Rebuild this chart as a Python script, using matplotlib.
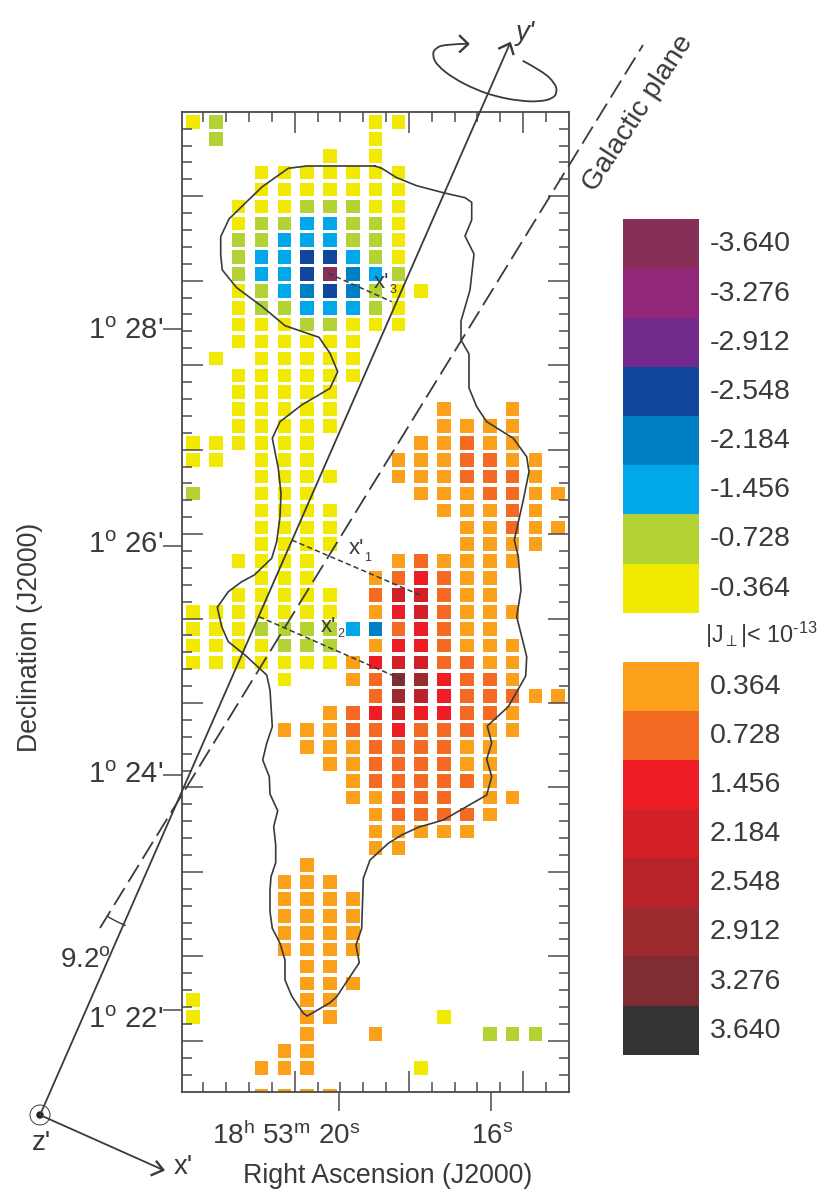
import numpy as np
import matplotlib

matplotlib.use("Agg")
import matplotlib.pyplot as plt  # noqa: E402
from matplotlib.patches import Circle, PathPatch, Rectangle  # noqa: E402
from matplotlib.path import Path  # noqa: E402

plt.rcParams["font.family"] = ["Liberation Sans", "DejaVu Sans"]
plt.rcParams["mathtext.fontset"] = "custom"
plt.rcParams["mathtext.rm"] = "Liberation Sans"
plt.rcParams["mathtext.it"] = "Liberation Sans:italic"
plt.rcParams["axes.unicode_minus"] = False

INK = "#3a3a3a"
FRAME = "#4a4a4a"

# current density levels, key letter/digit -> value
neg_levels = [-3.640, -3.276, -2.912, -2.548, -2.184, -1.456, -0.728, -0.364]
neg_colors = ["#862f57", "#93277a", "#722a8c", "#10479c", "#0080c4", "#00a8ea", "#b3d335", "#f2e900"]
neg_keys = "hgfedcba"
pos_levels = [0.364, 0.728, 1.456, 2.184, 2.548, 2.912, 3.276, 3.640]
pos_colors = ["#fba01b", "#f46a22", "#ee1c25", "#d32027", "#b9242a", "#9d2a2f", "#7f2d32", "#333333"]
pos_keys = "12345678"

# one string per declination row, one char per right ascension column
grid_rows = [
    "ab......aa.......",
    ".b......a........",
    "......a.a........",
    "...aaaaaaa.......",
    "...aaaaaaa.......",
    "..aaabbbaa.......",
    "..abbccbba.......",
    "..bbcccbba.......",
    "..bcceecba.......",
    "..bccehdcb.......",
    "..abcdedbaa......",
    "..abbcccba.......",
    "..aaabbaaa.......",
    "..aaaaaa.........",
    ".a.aaaaa.........",
    "..aaaaaa.........",
    "..aaaaa..........",
    "..aaaaa....1..1..",
    "..aaaaa....1111..",
    "aaaaaa....11211..",
    "aa.aaa...1112211.",
    "...aaaa..1112221.",
    "b..aaa....1112211",
    "...aaaa....11121.",
    "...aaaa.....11211",
    "...aaaa.....1111.",
    "..aaaa...121111..",
    "...aaa..123211...",
    "..aaaaa.244211...",
    "aaaaaaa.1342111..",
    "aaabbbbcd23211...",
    "aaaabbb.1332111..",
    "aaaaaaa13442211..",
    "....a..12763221..",
    "........265322211",
    "......123433221..",
    "....11122322211..",
    ".....111222211...",
    "......11222211...",
    ".......1222221...",
    ".......11222.11..",
    "........122221...",
    "........11111....",
    "........11.......",
    ".....1...........",
    "....111..........",
    "....1111.........",
    "....1111.........",
    "....1111.........",
    "....1111.........",
    ".....11..........",
    ".....111.........",
    "a....11..........",
    "a....11....a.....",
    ".....1..1....bbb.",
    "....11...........",
    "...111....a......",
    "...1111..........",
]

# cloud outline, in picture pixels
outline_x = [375, 381.7, 396.7, 416.7, 443.3, 465, 471.7, 471.7, 465, 474, 470, 461, 461, 469, 469, 476.7, 486.7,
             513.3, 526.7, 529, 523.3, 514.3, 518.3, 521, 516.7, 526.7, 525.7, 508.3, 487.3, 491.7, 486.7, 491.7,
             486.7, 443.3, 418.3, 401.7, 388.3, 370, 363.3, 361.7, 356, 359.3, 336.7, 330, 307.3, 303.3, 291.7,
             285, 285, 280, 272.3, 270, 270, 271, 275.7, 275.7, 273.7, 277.7, 270, 269.3, 262.7, 266.7, 272.3,
             270, 266.7, 245, 228.3, 221.7, 217.3, 228.3, 241.7, 254.3, 271.7, 276.7, 280, 281, 278.3, 272.3,
             280, 301.7, 330, 337.7, 330, 319, 285, 262.3, 236.7, 222.3, 220.7, 220.7, 229, 246.7, 262.3, 288.3,
             306.7, 375]
outline_y = [166, 168.3, 177.7, 185.7, 192.7, 197.7, 202.3, 220, 236, 254, 290, 321, 340, 354, 388, 406.7, 421.7,
             438.3, 456.7, 471.7, 500, 540, 556.7, 590, 616.7, 656.7, 676, 706.7, 726, 742.7, 759.3, 776.7,
             795, 820, 827.3, 835, 843.3, 860, 878.3, 928.3, 945, 962.7, 996.7, 1002.7, 1016, 1013.3, 996,
             980, 960, 943.3, 928.3, 911.7, 890, 876.7, 862.7, 845, 826.7, 810.7, 794, 776.7, 760, 743.3, 726.7,
             690, 675, 655, 641.7, 626.7, 607.3, 591.7, 581.7, 575, 558.3, 541.7, 516.7, 493.3, 468.3, 438.3,
             421.7, 405, 388.3, 371.7, 353.3, 337.3, 325.7, 306.7, 287.7, 270, 255, 236.7, 219, 201.7, 186.7, 168.3,
             166, 166]

spin_x = [522.7, 543.3, 555, 557.3, 553.3, 540, 520, 496.7, 476.7, 453.3, 436.7, 432.3, 435, 445, 468.3]
spin_y = [60.7, 71.7, 83.3, 91.7, 98.3, 101.7, 101, 96.7, 90, 78.3, 65, 55, 48.3, 44.3, 43.7]

W, H = 830, 1202
fig = plt.figure(figsize=(W / 100, H / 100), dpi=100)

# grid geometry in picture pixels
left, right, top, bottom = 182.3, 569.0, 111.7, 1092.0
col0, col_step = 193.0, 22.83
row0, row_step = 122.0, 16.89

ax = fig.add_axes([left / W, 1 - bottom / H, (right - left) / W, (bottom - top) / H])
ax.set_xlim((left - col0) / col_step, (right - col0) / col_step)
ax.set_ylim((bottom - row0) / row_step, (top - row0) / row_step)

key_value = dict(zip(neg_keys, neg_levels)) | dict(zip(pos_keys, pos_levels))
value_color = dict(zip(neg_levels, neg_colors)) | dict(zip(pos_levels, pos_colors))
cols, rows, cell_colors = [], [], []
for r, line in enumerate(grid_rows):
    for c, key in enumerate(line):
        if key != ".":
            cols.append(c)
            rows.append(r)
            cell_colors.append(value_color[key_value[key]])
side_pt = 13.6 * 0.72
ax.scatter(cols, rows, s=side_pt ** 2, c=cell_colors, marker="s", linewidths=0, zorder=1)

# last row is mostly wiped out in the original
ax.add_patch(Rectangle((2.5, 56.5), 4, 0.76, facecolor="white", edgecolor="none", zorder=1.5))

# inner ticks on all four sides
x_ticks = (203.4 - col0) / col_step + np.arange(16)
y_ticks = (128.7 - row0) / row_step + np.arange(57)
ax.set_xticks(x_ticks[4::5])
ax.set_xticks(np.delete(x_ticks, np.arange(4, 16, 5)), minor=True)
ax.set_yticks(y_ticks[4::5])
ax.set_yticks(np.delete(y_ticks, np.arange(4, 57, 5)), minor=True)
ax.tick_params(which="major", direction="in", length=15, width=1.1, color=FRAME,
               top=True, bottom=True, left=True, right=True,
               labelbottom=False, labelleft=False)
ax.tick_params(which="minor", direction="in", length=7.5, width=1.1, color=FRAME,
               top=True, bottom=True, left=True, right=True)
for spine in ax.spines.values():
    spine.set_color(FRAME)
    spine.set_linewidth(1.3)

# outer ticks for the coordinate labels
ra_ticks = [(339.0 - col0) / col_step, (491.0 - col0) / col_step]
dec_ticks = [(y - row0) / row_step for y in (329.0, 546.0, 775.0, 1010.0)]
sec_x = ax.secondary_xaxis("bottom")
sec_x.set_xticks(ra_ticks, labels=[])
sec_x.tick_params(direction="out", length=14, width=1.1, color=FRAME)
sec_y = ax.secondary_yaxis("left")
sec_y.set_yticks(dec_ticks, labels=[])
sec_y.tick_params(direction="out", length=14, width=1.1, color=FRAME)
sec_x.spines["bottom"].set_visible(False)
sec_y.spines["left"].set_visible(False)

# colour keys
for box, levels, colors in [((219.3, 612.7), neg_levels, neg_colors), ((661.7, 1054.7), pos_levels, pos_colors)]:
    cax = fig.add_axes([623.3 / W, 1 - box[1] / H, 75.4 / W, (box[1] - box[0]) / H])
    cax.bar(0.5, 1, width=1, bottom=np.arange(8), color=colors)
    cax.set_xlim(0, 1)
    cax.set_ylim(8, 0)
    cax.set_xticks([])
    cax.yaxis.tick_right()
    cax.set_yticks(np.arange(8) + 0.45, labels=[f"{v:.3f}" for v in levels])
    cax.tick_params(axis="y", length=0, pad=8, labelsize=20.5, labelcolor=INK)
    for spine in cax.spines.values():
        spine.set_visible(False)

# overlay in picture pixels for sketch lines and labels
ov = fig.add_axes([0, 0, 1, 1])
ov.set_xlim(0, W)
ov.set_ylim(H, 0)
ov.axis("off")
ov.patch.set_alpha(0)

ov.plot(outline_x, outline_y, color=INK, lw=1.2, solid_joinstyle="round")

# coordinate frame
origin = (40, 1115)
ov.plot([origin[0], 510], [origin[1], 43.3], color=INK, lw=1.3)
ov.plot([499.3, 510, 513.3], [48.3, 43.3, 54], color=INK, lw=1.7)
ov.plot([origin[0], 163.3], [origin[1], 1170], color=INK, lw=1.3)
ov.plot([156.7, 163.3, 151.7], [1161.7, 1170, 1175], color=INK, lw=1.7)
ov.add_patch(Circle(origin, 10, fill=False, edgecolor=INK, lw=0.7))
ov.add_patch(Circle(origin, 3, color="#222222"))

# galactic plane and angle between it and y', dashes start from the low end
ov.plot([100, 643], [928, 45], color=INK, lw=1.3, dashes=(11, 4))
ang = np.radians(np.linspace(113.0, 120.8, 12))
ov.plot(182.5 + 147 * np.cos(ang), 790 + 147 * np.sin(ang), color=INK, lw=1.0)

# spin arrow, smoothed through the traced control points
spin = np.column_stack([spin_x, spin_y])
verts = [spin[0]]
codes = [Path.MOVETO]
for i in range(1, len(spin) - 1):
    end = spin[i + 1] if i == len(spin) - 2 else (spin[i] + spin[i + 1]) / 2
    verts += [spin[i], end]
    codes += [Path.CURVE3, Path.CURVE3]
ov.add_patch(PathPatch(Path(verts, codes), facecolor="none", edgecolor=INK, lw=1.3))
ov.plot([460, 468.3, 460], [36, 44, 51.7], color=INK, lw=1.7)

# x' cuts
for xs, ys in [((291.7, 420), (540, 595)), ((259, 401.7), (616.7, 679.3)), ((328.3, 391.7), (273.3, 301.7))]:
    ov.plot(xs, ys, color=INK, lw=1.1, dashes=(3.5, 2))

for x, y, sub_x, sub_y, num in [(356, 549, 368, 558, "1"), (328, 626, 341, 634, "2"), (381, 283, 393, 290, "3")]:
    ov.text(x, y, "x'", fontsize=16, color=INK, ha="center", va="center")
    ov.text(sub_x, sub_y, num, fontsize=9, color=INK, ha="center", va="center")

for label, y in [("28", 331), ("26", 545), ("24", 775), ("22", 1020)]:
    ov.text(163, y, "1$^{\\mathrm{o}}$ " + label + "'", fontsize=21, color=INK, ha="right", va="center")

ov.text(286, 1136, "18$^{\\mathrm{h}}$ 53$^{\\mathrm{m}}$ 20$^{\\mathrm{s}}$", fontsize=20, color=INK,
        ha="center", va="center")
ov.text(492, 1136, "16$^{\\mathrm{s}}$", fontsize=20, color=INK, ha="center", va="center")
ov.text(388, 1176, "Right Ascension (J2000)", fontsize=19.3, color=INK, ha="center", va="center")
ov.text(30, 637, "Declination (J2000)", fontsize=19.2, color=INK, rotation=90, ha="center", va="center")
ov.text(638, 113, "Galactic plane", fontsize=20.5, color=INK, rotation=57, ha="center", va="center",
        rotation_mode="anchor")
ov.text(85, 960, "9.2$^{\\mathrm{o}}$", fontsize=20, color=INK, ha="center", va="center")
ov.text(41, 1143, "z'", fontsize=20, color=INK, ha="center", va="center")
ov.text(183, 1167, "x'", fontsize=20, color=INK, ha="center", va="center")
ov.text(525, 33, "y'", fontsize=20, color=INK, style="italic", ha="center", va="center")
ov.text(761, 635, "$|$J$_{\\perp}$$|$< 10$^{\\text{-13}}$", fontsize=16.8, color=INK, ha="center", va="center")

fig.savefig("out.png", dpi=100)
